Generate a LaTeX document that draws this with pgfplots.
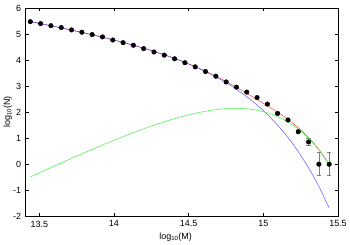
\documentclass[border=0pt]{standalone}
\usepackage{fontspec}
\setmainfont{Liberation Sans}
\usepackage{pgfplots}
\pgfplotsset{compat=1.18}
\usepackage{pgfplotstable}

\pgfplotstableread{
x y ep em
13.440 5.475 0 0
13.509 5.40 0 0
13.578 5.32 0 0
13.647 5.25 0 0
13.716 5.16 0 0
13.785 5.07 0 0
13.854 4.98 0 0
13.923 4.89 0 0
13.992 4.77 0 0
14.061 4.67 0 0
14.130 4.57 0 0
14.199 4.44 0 0
14.268 4.31 0 0
14.337 4.19 0 0
14.406 4.05 0 0
14.475 3.90 0 0
14.544 3.74 0 0
14.613 3.56 0 0
14.682 3.38 0.01 0.01
14.751 3.16 0.01 0.01
14.820 2.96 0.015 0.015
14.889 2.77 0.02 0.02
14.958 2.56 0.02 0.02
15.027 2.31 0.03 0.03
15.096 1.95 0.04 0.04
15.165 1.70 0.05 0.05
15.234 1.25 0.07 0.07
15.303 0.855 0.13 0.13
15.372 0.0 0.46 0.41
15.441 0.0 0.46 0.41
}\pts

\pgfplotstableread{
x y
13.44 5.480
13.54 5.364
13.64 5.245
13.74 5.121
13.84 4.992
13.94 4.856
14.04 4.711
14.14 4.555
14.24 4.386
14.34 4.199
14.44 3.991
14.54 3.755
14.64 3.484
14.69 3.333
14.74 3.170
14.79 2.994
14.84 2.801
14.89 2.592
14.94 2.364
14.99 2.114
15.04 1.840
15.09 1.538
15.14 1.206
15.19 0.840
15.24 0.435
15.29 -0.013
15.34 -0.508
15.39 -1.059
15.44 -1.670
}\blueline

\pgfplotstableread{
x y
13.44 -0.490
13.54 -0.227
13.64 0.032
13.74 0.287
13.84 0.536
13.94 0.779
14.04 1.013
14.14 1.236
14.24 1.446
14.34 1.639
14.44 1.810
14.54 1.954
14.64 2.065
14.74 2.132
14.79 2.147
14.84 2.146
14.89 2.128
14.94 2.092
14.99 2.034
15.04 1.952
15.09 1.844
15.14 1.705
15.19 1.533
15.24 1.323
15.29 1.070
15.34 0.770
15.39 0.417
15.44 0.003
}\greenline

\pgfplotstableread{
x y
13.44 5.480
13.54 5.364
13.64 5.245
13.74 5.121
13.84 4.992
13.94 4.856
14.04 4.711
14.14 4.555
14.24 4.387
14.34 4.200
14.44 3.994
14.54 3.762
14.64 3.500
14.69 3.358
14.74 3.208
14.79 3.052
14.84 2.888
14.89 2.720
14.94 2.550
14.99 2.377
15.04 2.201
15.09 2.018
15.14 1.825
15.19 1.613
15.24 1.376
15.29 1.105
15.34 0.792
15.39 0.431
15.44 0.012
}\redline

\begin{document}
\begin{tikzpicture}
\path[use as bounding box] (-25.7bp,-28.7bp) rectangle (324.3bp,216.3bp);
\begin{axis}[
  at={(0,0)}, anchor=south west,
  scale only axis,
  width=312.3bp, height=208.3bp,
  xmin=13.409, xmax=15.5,
  ymin=-2, ymax=6,
  xtick={13.5,14,14.5,15,15.5},
  xticklabels={13.5,14,14.5,15,15.5},
  ytick={-2,-1,0,1,2,3,4,5,6},
  yticklabels={-2,-1,0,1,2,3,4,5,6},
  tick align=inside,
  major tick length=3bp,
  tick style={black, line width=0.5bp},
  axis line style={black, line width=0.6bp},
  font=\fontsize{9}{10}\selectfont,
  ticklabel style={font=\fontsize{9}{10}\selectfont},
  xticklabel style={yshift=-1bp},
  yticklabel style={xshift=-1bp},
  xlabel={log$_{\mathrm{10}}$(M)},
  ylabel={log$_{\mathrm{10}}$(N)},
  every axis x label/.style={at={(axis description cs:0.48,-0.098)},anchor=center},
  every axis y label/.style={at={(axis description cs:-0.057,0.5)},rotate=90,anchor=center},
  clip=false,
]
\addplot[only marks, mark=*, mark size=2.3bp, black,
  error bars/.cd, y dir=both, y explicit,
  error bar style={gray, line width=0.5bp},
  error mark options={rotate=90, mark size=2.2bp, gray, line width=0.5bp}]
  table[x=x, y=y, y error plus=ep, y error minus=em] {\pts};
\addplot[no marks, line width=0.5bp, color={rgb,255:red,255;green,70;blue,70}] table[x=x,y=y] {\redline};
\addplot[no marks, line width=0.5bp, color={rgb,255:red,60;green,60;blue,255}, opacity=0.85] table[x=x,y=y] {\blueline};
\addplot[no marks, line width=0.5bp, color={rgb,255:red,60;green,240;blue,60}] table[x=x,y=y] {\greenline};
\end{axis}
\end{tikzpicture}
\end{document}
